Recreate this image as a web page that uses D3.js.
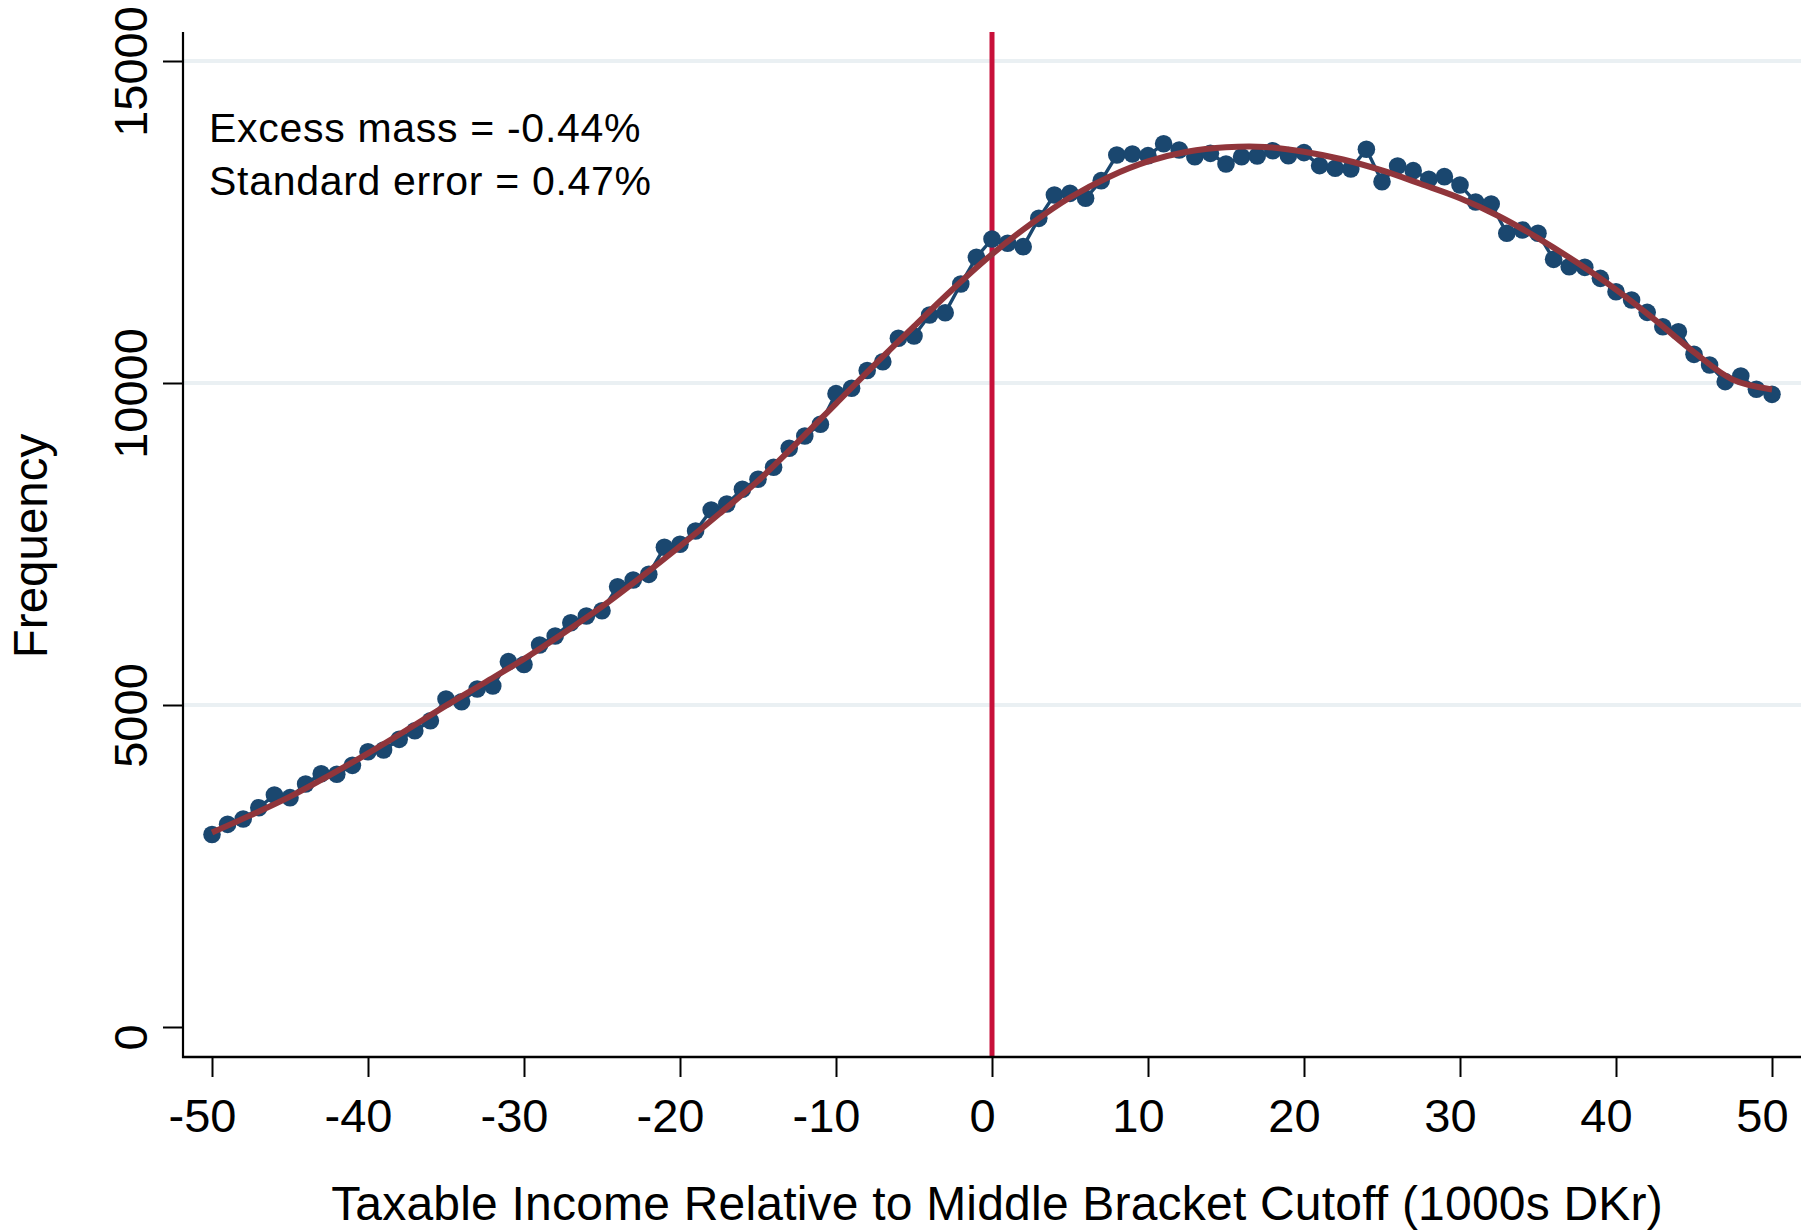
<!DOCTYPE html>
<html>
<head>
<meta charset="utf-8">
<script src="https://cdn.jsdelivr.net/npm/d3@7"></script>
<style>
  html, body { margin: 0; padding: 0; background: #ffffff; }
  svg { display: block; }
  text { font-family: "Liberation Sans", Arial, Helvetica, sans-serif; fill: #000; }
</style>
</head>
<body>
<svg id="chart" width="1816" height="1232"></svg>
<script>
// Income bins, 1000s DKr relative to the middle bracket cutoff
const bins = [
  -50, -49, -48, -47, -46, -45, -44, -43, -42, -41,
  -40, -39, -38, -37, -36, -35, -34, -33, -32, -31,
  -30, -29, -28, -27, -26, -25, -24, -23, -22, -21,
  -20, -19, -18, -17, -16, -15, -14, -13, -12, -11,
  -10, -9, -8, -7, -6, -5, -4, -3, -2, -1,
  0, 1, 2, 3, 4, 5, 6, 7, 8, 9,
  10, 11, 12, 13, 14, 15, 16, 17, 18, 19,
  20, 21, 22, 23, 24, 25, 26, 27, 28, 29,
  30, 31, 32, 33, 34, 35, 36, 37, 38, 39,
  40, 41, 42, 43, 44, 45, 46, 47, 48, 49,
  50
];

// Observed number of taxpayers in each bin
const frequency = [
  2990, 3147, 3230, 3405, 3602, 3561, 3773, 3933, 3924, 4063,
  4275, 4301, 4467, 4601, 4756, 5093, 5051, 5248, 5295, 5673,
  5630, 5932, 6071, 6278, 6382, 6464, 6837, 6941, 7029, 7449,
  7495, 7702, 8028, 8121, 8349, 8505, 8691, 8986, 9177, 9359,
  9835, 9918, 10195, 10331, 10694, 10730, 11056, 11092, 11537, 11952,
  12236, 12169, 12117, 12557, 12919, 12945, 12868, 13142, 13540, 13556,
  13530, 13715, 13618, 13514, 13566, 13401, 13514, 13525, 13607, 13530,
  13577, 13375, 13334, 13323, 13629, 13126, 13370, 13297, 13163, 13204,
  13075, 12810, 12780, 12325, 12376, 12325, 11920, 11806, 11796, 11625,
  11418, 11289, 11097, 10874, 10796, 10445, 10280, 10021, 10109, 9902,
  9824
];

// Fitted counterfactual density
const fitIncome = [
  -50, -47.5, -45, -42.5, -40, -37.5, -35, -32.5, -30, -27.5,
  -25, -22.5, -20, -17.5, -15, -12.5, -10, -7.5, -5, -2.5,
  0, 2.5, 5, 7.5, 10, 12.5, 15, 17.5, 20, 22.5,
  25, 27.5, 30, 32.5, 35, 37.5, 40, 42.5, 45, 47.5,
  50
];
const fitFrequency = [
  3020, 3290, 3577, 3905, 4250, 4615, 4990, 5350, 5715, 6110,
  6527, 6985, 7465, 7965, 8480, 9070, 9680, 10290, 10880, 11460,
  12000, 12470, 12880, 13200, 13440, 13590, 13660, 13665, 13590, 13470,
  13300, 13090, 12870, 12590, 12250, 11870, 11450, 10980, 10480, 10050,
  9900
];

const xTicks = [-50, -40, -30, -20, -10, 0, 10, 20, 30, 40, 50];
const yTicks = [0, 5000, 10000, 15000];
const gridValues = [5000, 10000, 15000];
const cutoff = 0;
const notes = ["Excess mass = -0.44%", "Standard error = 0.47%"];
const xTitle = "Taxable Income Relative to Middle Bracket Cutoff (1000s DKr)";
const yTitle = "Frequency";

// Layout
const plotLeft = 183, plotRight = 1801, plotTop = 32, plotBottom = 1057;

const x = d3.scaleLinear().domain([-50, 50]).range([212, 1772]);
const y = d3.scaleLinear().domain([0, 15000]).range([1027, 61]);

const svg = d3.select("#chart");
const plain = d => String(d);   // ASCII hyphen for negatives

// Gridlines
svg.append("g")
  .selectAll("line")
  .data(gridValues)
  .join("line")
  .attr("x1", plotLeft).attr("x2", plotRight)
  .attr("y1", d => y(d)).attr("y2", d => y(d))
  .attr("stroke", "#eaf0f3")
  .attr("stroke-width", 4);

// Cutoff line
svg.append("line")
  .attr("x1", x(cutoff)).attr("x2", x(cutoff))
  .attr("y1", plotTop).attr("y2", plotBottom)
  .attr("stroke", "#c8103a")
  .attr("stroke-width", 5);

// Observed series: connected markers
const observed = bins.map((b, i) => [b, frequency[i]]);
svg.append("path")
  .datum(observed)
  .attr("fill", "none")
  .attr("stroke", "#1a476f")
  .attr("stroke-width", 3.4)
  .attr("stroke-linejoin", "round")
  .attr("d", d3.line().x(d => x(d[0])).y(d => y(d[1])));

svg.append("g")
  .selectAll("circle")
  .data(observed)
  .join("circle")
  .attr("cx", d => x(d[0]))
  .attr("cy", d => y(d[1]))
  .attr("r", 8.8)
  .attr("fill", "#1a476f");

// Fitted curve
svg.append("path")
  .datum(fitIncome.map((b, i) => [b, fitFrequency[i]]))
  .attr("fill", "none")
  .attr("stroke", "#90353b")
  .attr("stroke-width", 6)
  .attr("stroke-linecap", "butt")
  .attr("d", d3.line().curve(d3.curveCatmullRom).x(d => x(d[0])).y(d => y(d[1])));

// Axes
const xAxis = d3.axisBottom(x).tickValues(xTicks).tickSize(20).tickPadding(0).tickFormat(plain);
const gx = svg.append("g").attr("transform", `translate(0,${plotBottom})`).call(xAxis);
gx.select(".domain").remove();
gx.selectAll(".tick line").attr("stroke", "#000").attr("stroke-width", 2);
gx.selectAll(".tick text")
  .attr("y", 75)
  .attr("dy", 0)
  .attr("dx", -10)
  .style("font-size", "47px")
  .style("font-family", "\"Liberation Sans\", Arial, Helvetica, sans-serif");

const yAxis = d3.axisLeft(y).tickValues(yTicks).tickSize(20).tickFormat(plain);
const gy = svg.append("g").attr("transform", `translate(${plotLeft},0)`).call(yAxis);
gy.select(".domain").remove();
gy.selectAll(".tick line").attr("stroke", "#000").attr("stroke-width", 2);
gy.selectAll(".tick text")
  .attr("x", null).attr("dy", null)
  .attr("text-anchor", "middle")
  .attr("transform", "translate(-36,10) rotate(-90)")
  .style("font-size", "47px")
  .style("font-family", "\"Liberation Sans\", Arial, Helvetica, sans-serif");

// Axis lines
svg.append("line")
  .attr("x1", plotLeft).attr("x2", plotLeft)
  .attr("y1", plotTop).attr("y2", plotBottom + 1)
  .attr("stroke", "#000").attr("stroke-width", 2.2);
svg.append("line")
  .attr("x1", plotLeft - 1).attr("x2", plotRight)
  .attr("y1", plotBottom).attr("y2", plotBottom)
  .attr("stroke", "#000").attr("stroke-width", 2.4);

// Annotation
svg.append("g")
  .selectAll("text")
  .data(notes)
  .join("text")
  .attr("x", 209)
  .attr("y", (d, i) => 142 + i * 52.5)
  .style("font-size", "41px")
  .style("letter-spacing", "0.7px")
  .text(d => d);

// Axis titles
svg.append("text")
  .attr("x", 997)
  .attr("y", 1220)
  .attr("text-anchor", "middle")
  .style("font-size", "48px")
  .style("letter-spacing", "0.2px")
  .text(xTitle);

svg.append("text")
  .attr("transform", "translate(47,546) rotate(-90)")
  .attr("text-anchor", "middle")
  .style("font-size", "47.5px")
  .text(yTitle);
</script>
</body>
</html>
